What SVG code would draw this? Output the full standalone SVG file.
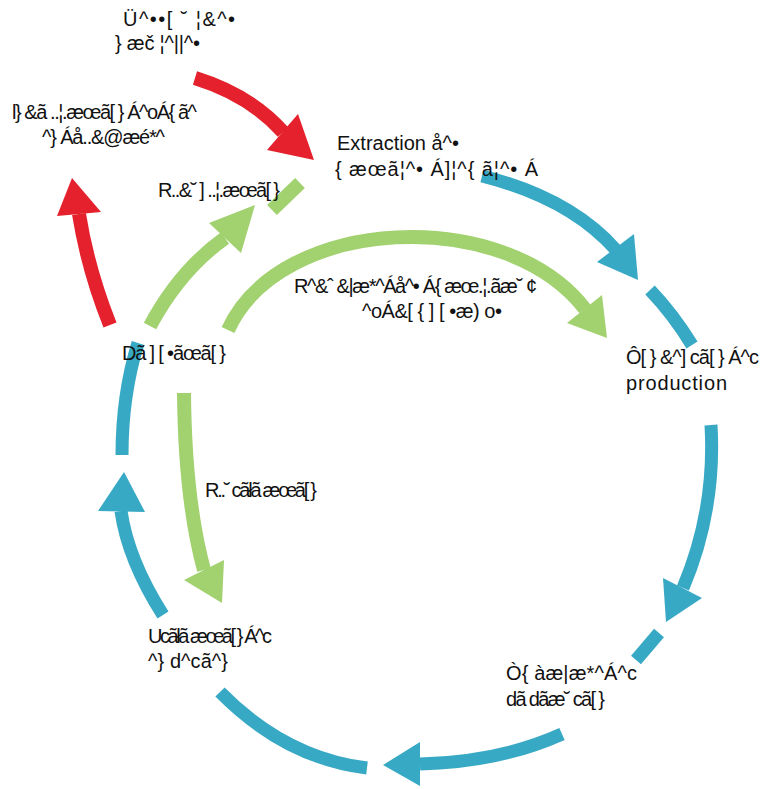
<svg xmlns="http://www.w3.org/2000/svg" width="767" height="789" viewBox="0 0 767 789">
<style>
.t{font-family:"Liberation Sans",Arial,sans-serif;font-size:20px;fill:#111}
.b{fill:none;stroke:#38a9c4;stroke-width:13}
.g{fill:none;stroke:#a2d16f;stroke-width:14}
.r{fill:none;stroke:#e4212d;stroke-width:14}
.bh{fill:#38a9c4}.gh{fill:#a2d16f}.rh{fill:#e4212d}
</style>
<rect width="767" height="789" fill="#fff"/>
<g id="connectors">
<path class="b" d="M482,176 Q570,198 616,250"/><polygon class="bh" points="597,262 634,234 638,280"/>
<path class="b" d="M650,290 Q673,314 692,345"/>
<path class="b" d="M711,425 Q716,510 683,588"/><polygon class="bh" points="663,578 702,598 666,622"/>
<path class="b" d="M659,633 L636,660"/>
<path class="b" d="M562,734 Q500,762 420,764"/><polygon class="bh" points="420,742 420,786 383,765"/>
<path class="b" d="M220,692 Q285,758 367,768"/>
<path class="b" d="M163,615 Q128,560 121,511"/><polygon class="bh" points="98,511 145,512 124,472"/>
<path class="b" d="M122,455 Q122,395 138,343"/>
<path class="g" d="M150,326 Q180,270 225,238"/><polygon class="gh" points="209,223 241,253 255,205"/>
<path class="g" d="M272,210 L300,183"/>
<path class="g" d="M228,330 C280,215 505,205 585,309"/><polygon class="gh" points="567,323 602,295 607,338"/>
<path class="g" d="M184,393 Q185,500 204,570"/><polygon class="gh" points="184,580 224,560 222,603"/>
<path class="r" d="M195,78 Q250,95 283,132"/><polygon class="rh" points="298,114 267,150 314,160"/>
<path class="r" d="M110,325 Q88,270 79,214"/><polygon class="rh" points="57,216 101,212 72,178"/>
</g>
<g id="n1"><text class="t" x="123" y="26" textLength="112">Ü^••[ ˘ ¦&amp;^•</text><text class="t" x="115" y="50" textLength="85">} æč ¦^||^•</text></g>
<g id="n2"><text class="t" x="12" y="119" textLength="185">l} &amp;ã ..¦.æœã[ } Á^oÁ{ ã^</text><text class="t" x="42" y="144" textLength="123">^} Áå..&amp;@æé*^</text></g>
<g id="n3"><text class="t" x="158" y="197" textLength="122">R..&amp;˘ ] ..¦.æœã[ }</text></g>
<g id="n4"><text class="t" x="337" y="150">Extraction å^•</text><text class="t" x="335" y="176" textLength="203">{ æœã¦^• Á]¦^{ ã¦^• Á</text></g>
<g id="n5"><text class="t" x="294" y="293" textLength="243">R^&amp;ˆ &amp;|æ*^Áå^• Á{ æœ.¦.ãæ˘ ¢</text><text class="t" x="362" y="318" textLength="140">^oÁ&amp;[ { ] [ •æ) o•</text></g>
<g id="n6"><text class="t" x="122" y="360" textLength="104">Dã ] [ •ãœã[ }</text></g>
<g id="n7"><text class="t" x="626" y="364" textLength="133">Ô[ } &amp;^] cã[ } Á^c</text><text class="t" x="626" y="390" textLength="101">production</text></g>
<g id="n8"><text class="t" x="205" y="497" textLength="112">R..˘ cãłã æœã[ }</text></g>
<g id="n9"><text class="t" x="148" y="643" textLength="124">Ucãłã æœã[ } Á^c</text><text class="t" x="148" y="668" textLength="80">^} d^cã^}</text></g>
<g id="n10"><text class="t" x="506" y="680" textLength="131">Ò{ àæ|æ*^Á^c</text><text class="t" x="506" y="706" textLength="99">dã dãæ˘ cã[ }</text></g>
</svg>
